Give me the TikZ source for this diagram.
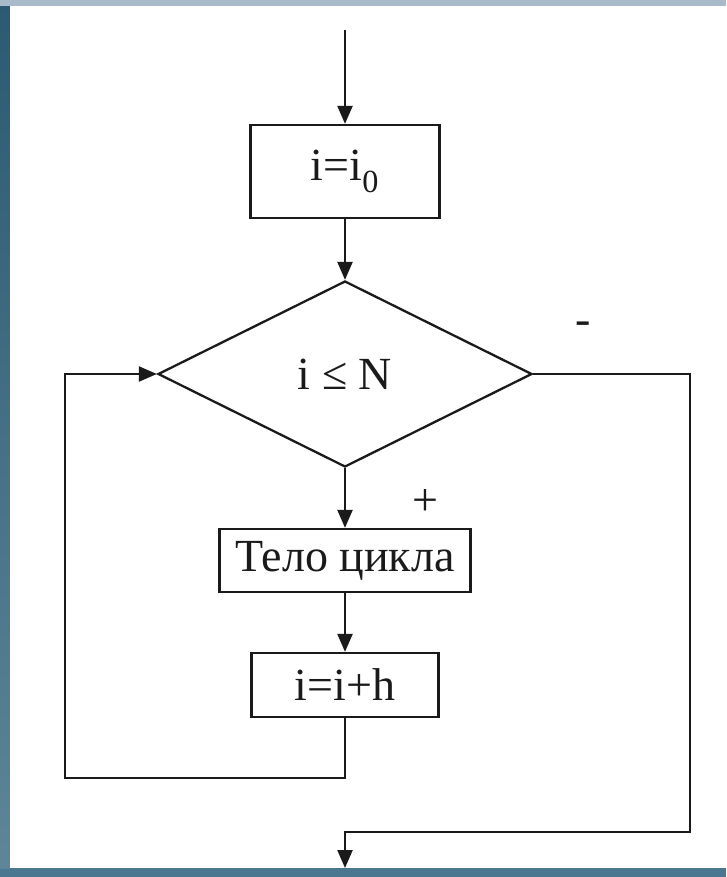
\documentclass[tikz,border=0pt]{standalone}
\usepackage{fontspec}
\setmainfont{Liberation Serif}
\usetikzlibrary{arrows.meta,shapes.geometric}

\definecolor{stripTop}{HTML}{A9BACA}
\definecolor{stripLeftA}{HTML}{2B5A72}
\definecolor{stripLeftB}{HTML}{5E8599}
\definecolor{stripBottom}{HTML}{4B7791}
\definecolor{ink}{HTML}{1A1A1A}

\begin{document}
\begin{tikzpicture}[x=1pt,y=-1pt,
  line/.style={draw=ink,line width=2.3pt},
  flow/.style={line,-{Triangle[length=18pt,width=15pt]}},
  txt/.style={font=\fontsize{46}{50}\selectfont,text=ink},
  procbox/.style={rectangle,line,txt,inner sep=0pt},
  decision/.style={diamond,line,txt,inner sep=0pt,minimum width=374pt,minimum height=186pt}]

  % frame of the slide
  \useasboundingbox (0,0) rectangle (726,877);
  \fill[stripBottom] (0,0) rectangle (726,877);
  \shade[top color=stripLeftA,bottom color=stripLeftB] (0,0) rectangle (10,868);
  \fill[stripTop] (0,0) rectangle (726,6);
  \fill[white] (10,6) rectangle (726,868);

  % blocks
  \coordinate (start) at (345,30);
  \node[procbox,minimum width=189pt,minimum height=93pt] (init) at (345,171.5) {i=i\textsubscript{0}};
  \node[decision] (cond) at (345,374) {i ≤ N};
  \node[procbox,minimum width=251pt,minimum height=63pt] (body) at (345,560.5) {Тело цикла};
  \node[procbox,minimum width=187pt,minimum height=64pt] (step) at (345,685) {i=i+h};

  % branch labels
  \node[txt] (minus) at (583,328) {-};
  \node[txt] (plus) at (425,503) {+};

  % turning points of the connectors
  \coordinate (loopcorner) at (65,778);
  \coordinate (exitcorner) at (690,832);
  \coordinate (finish) at (345,868);

  % connectors
  \draw[flow] (start) -- (init.north);
  \draw[flow] (init.south) -- (cond.north);
  \draw[flow] (cond.south) -- (body.north);
  \draw[flow] (body.south) -- (step.north);
  \draw[flow] (step.south) |- (loopcorner) |- (cond.west);
  \draw[flow] (cond.east) -| (exitcorner) -| (finish);
\end{tikzpicture}
\end{document}
